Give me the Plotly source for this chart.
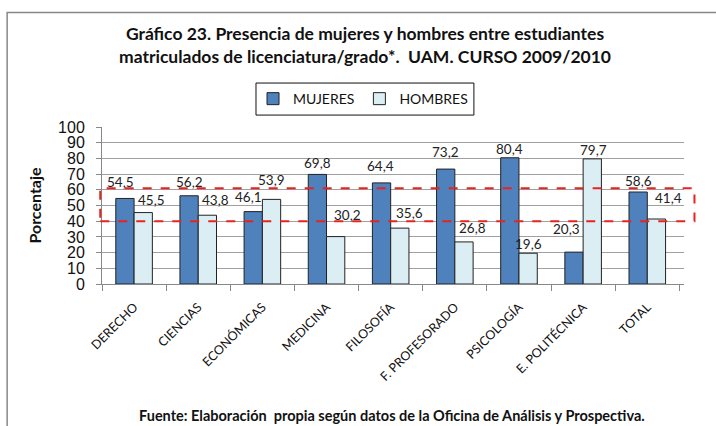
import plotly.graph_objects as go

categories = ["DERECHO", "CIENCIAS", "ECONÓMICAS", "MEDICINA", "FILOSOFÍA",
              "F. PROFESORADO", "PSICOLOGÍA", "E. POLITÉCNICA", "TOTAL"]
mujeres = [54.5, 56.2, 46.1, 69.8, 64.4, 73.2, 80.4, 20.3, 58.6]
hombres = [45.5, 43.8, 53.9, 30.2, 35.6, 26.8, 19.6, 79.7, 41.4]
y_ticks = [0, 10, 20, 30, 40, 50, 60, 70, 80, 90, 100]
band = [40, 61]

# style: data-label nudges in px (dx, dy above bar top), as placed in the original
mujeres_label_nudge = [(-4, 16), (0, 14), (-5, 15), (0, 11), (-1, 17), (0, 17), (0, 9), (-7, 23), (0, 11)]
hombres_label_nudge = [(8, 13), (8, 15), (0, 19), (12, 22), (10, 15), (8, 14), (0, 9), (1, 9), (12, 21)]

FONT = "Lato"
MARGIN = dict(l=102, r=32, t=127, b=142)
WIDTH, HEIGHT = 716, 426
BARGAP = 0.43

def fmt(v):
    return f"{v:.1f}".replace(".", ",")

fig = go.Figure()
fig.add_trace(go.Bar(
    x=categories, y=mujeres, name="MUJERES",
    marker=dict(color="#4F81BD", line=dict(color="#222222", width=1)),
))
fig.add_trace(go.Bar(
    x=categories, y=hombres, name="HOMBRES",
    marker=dict(color="#DBEEF4", line=dict(color="#222222", width=1)),
))

# data labels (annotations anchored on the bar tops)
plot_w = WIDTH - MARGIN["l"] - MARGIN["r"]
half_bar = plot_w / len(categories) * (1 - BARGAP) / 4
for series, nudges, side in ((mujeres, mujeres_label_nudge, -1), (hombres, hombres_label_nudge, 1)):
    for cat, v, (dx, dy) in zip(categories, series, nudges):
        fig.add_annotation(
            x=cat, y=v, xref="x", yref="y", text=fmt(v), showarrow=False,
            xanchor="center", yanchor="middle",
            xshift=side * half_bar + dx, yshift=dy,
            font=dict(family=FONT, size=13.5, color="#222222"))

# outer chart border
fig.add_shape(type="rect", xref="paper", yref="paper",
              x0=-0.163, x1=1.2, y0=-1.2, y1=1.729,
              line=dict(color="#888888", width=1.5), fillcolor="rgba(0,0,0,0)", layer="below")
# legend box
fig.add_shape(type="rect", xref="paper", yref="paper",
              x0=0.2646, x1=0.639, y0=1.076, y1=1.280,
              line=dict(color="#111111", width=1), fillcolor="rgba(0,0,0,0)")
# red dashed highlight band
fig.add_shape(type="rect", xref="paper", yref="y",
              x0=-0.003, x1=1.018, y0=band[0], y1=band[1],
              line=dict(color="#E8231E", width=2, dash="dash"), fillcolor="rgba(0,0,0,0)")

fig.add_annotation(
    text="<b>Gráfico 23. Presencia de mujeres y hombres entre estudiantes<br>"
         "matriculados de licenciatura/grado*.  UAM. CURSO 2009/2010</b>",
    xref="paper", yref="paper", x=0.4511, y=1.675, xanchor="center", yanchor="top",
    showarrow=False, font=dict(family=FONT, size=17.5, color="#111111"),
    align="center")
fig.add_annotation(
    text="<b>Fuente: Elaboración  propia según datos de la Oficina de Análisis y Prospectiva.</b>",
    xref="paper", yref="paper", x=0.4983, y=-0.84, xanchor="center", yanchor="middle",
    showarrow=False, font=dict(family=FONT, size=14.5, color="#111111"))

fig.update_layout(
    width=WIDTH, height=HEIGHT,
    margin=MARGIN,
    paper_bgcolor="white", plot_bgcolor="white",
    barmode="group", bargap=BARGAP, bargroupgap=0,
    showlegend=True,
    legend=dict(orientation="h", x=0.4485, y=1.178, xanchor="center", yanchor="middle",
                borderwidth=0, bgcolor="rgba(0,0,0,0)",
                font=dict(family=FONT, size=14, color="#111111"),
                itemwidth=30, traceorder="normal"),
    font=dict(family=FONT, color="#111111"),
)
fig.update_yaxes(
    range=[0, 100], tickvals=y_ticks, ticks="outside", ticklen=5, tickcolor="#888888",
    showgrid=True, gridcolor="#A0A0A0", gridwidth=1.2,
    showline=True, linecolor="#888888", linewidth=1,
    tickfont=dict(family="Liberation Sans", size=16, color="#111111"),
    ticklabelstandoff=8,
    title=dict(text="<b>Porcentaje</b>", font=dict(family=FONT, size=16, color="#111111"), standoff=12),
    zeroline=False,
)
fig.update_xaxes(
    tickangle=-45, tickson="boundaries", ticks="outside", ticklen=6, tickcolor="#888888",
    showline=True, linecolor="#888888", linewidth=1,
    tickfont=dict(family=FONT, size=12.5, color="#111111"),
    ticklabelstandoff=10,
    showgrid=False,
)

fig.write_html("out.html", config={"displayModeBar": False},
               post_script="document.body.style.margin='0px';")
